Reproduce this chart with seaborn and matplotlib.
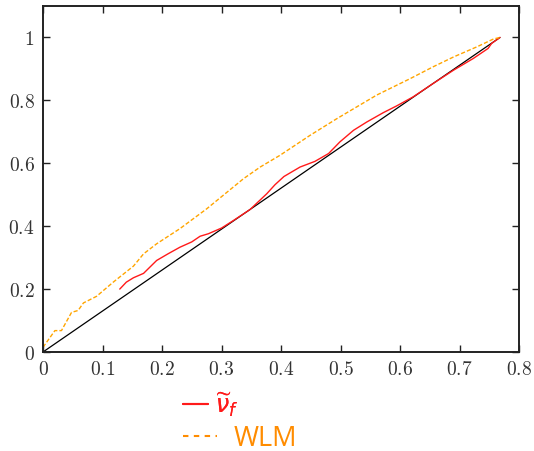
import matplotlib
matplotlib.use("Agg")
import matplotlib.pyplot as plt
from matplotlib.lines import Line2D
import seaborn as sns
import pandas as pd

# Reference diagonal
diag_x = [0.0, 0.768]
diag_y = [0.0, 1.0]

# Transported-frequency curve
nu_x = [0.129, 0.140, 0.152, 0.169, 0.191, 0.210, 0.230, 0.250, 0.264, 0.278, 0.300,
        0.320, 0.348, 0.376, 0.390, 0.405, 0.432, 0.457, 0.480, 0.499, 0.522, 0.544, 0.572,
        0.594, 0.622, 0.656, 0.690, 0.723, 0.748, 0.754, 0.768]
nu_y = [0.200, 0.222, 0.236, 0.250, 0.291, 0.312, 0.333, 0.350, 0.368, 0.376, 0.394,
        0.418, 0.453, 0.503, 0.532, 0.558, 0.588, 0.606, 0.631, 0.668, 0.705, 0.731, 0.761,
        0.782, 0.811, 0.854, 0.896, 0.933, 0.965, 0.981, 1.000]

# WLM curve
wlm_x = [0.000, 0.020, 0.031, 0.048, 0.059, 0.068, 0.090, 0.118, 0.152, 0.169, 0.191,
         0.230, 0.275, 0.337, 0.365, 0.398, 0.449, 0.494, 0.561, 0.617, 0.656, 0.690,
         0.729, 0.757, 0.768]
wlm_y = [0.015, 0.068, 0.068, 0.126, 0.132, 0.156, 0.177, 0.222, 0.273, 0.312, 0.344,
         0.392, 0.455, 0.551, 0.588, 0.625, 0.689, 0.742, 0.817, 0.869, 0.907, 0.938,
         0.970, 0.995, 1.000]

x_ticks = [0, 0.1, 0.2, 0.3, 0.4, 0.5, 0.6, 0.7, 0.8]
x_tick_labels = ["0", "0.1", "0.2", "0.3", "0.4", "0.5", "0.6", "0.7", "0.8"]
y_ticks = [0, 0.2, 0.4, 0.6, 0.8, 1.0]
y_tick_labels = ["0", "0.2", "0.4", "0.6", "0.8", "1"]

sns.set_style("ticks")
plt.rcParams["mathtext.fontset"] = "cm"
plt.rcParams["font.family"] = ["Open Sans", "DejaVu Sans"]

W, H = 534, 452
fig = plt.figure(figsize=(W / 100, H / 100), dpi=100)
ax = fig.add_axes([43 / W, 1 - 353 / H, (519 - 43) / W, (353 - 7) / H])

diag = pd.DataFrame({"x": diag_x, "y": diag_y})
nu = pd.DataFrame({"x": nu_x, "y": nu_y})
wlm = pd.DataFrame({"x": wlm_x, "y": wlm_y})

sns.lineplot(data=diag, x="x", y="y", ax=ax, color="black", lw=0.9, sort=False)
sns.lineplot(data=nu, x="x", y="y", ax=ax, color="#ff1a1a", lw=1.0, sort=False)
sns.lineplot(data=wlm, x="x", y="y", ax=ax, color="#ffa500", lw=1.0, sort=False,
             dashes=False, linestyle=(0, (3, 1.5)))

ax.set_xlim(0, 0.8)
ax.set_ylim(0, 1.10)
ax.set_xlabel("")
ax.set_ylabel("")
ax.set_xticks(x_ticks)
ax.set_xticklabels([f"${t}$" for t in x_tick_labels])
ax.set_yticks(y_ticks)
ax.set_yticklabels([f"${t}$" for t in y_tick_labels])
ax.tick_params(direction="in", length=5, width=1.0, top=True, right=True,
               labelsize=14, labelcolor="#333333", color="#222222", pad=6)
for s in ax.spines.values():
    s.set_linewidth(1.4)
    s.set_color("#222222")

# Two separate key entries below the axes
nu_handle = Line2D([], [], color="#ff1a1a", lw=1.5)
leg1 = fig.legend([nu_handle], [r"$\widetilde{\nu}_f$"], loc="center left",
                  bbox_to_anchor=(183 / W, 1 - 405 / H), frameon=False, fontsize=17,
                  handlelength=1.05, handletextpad=0.3, borderpad=0, borderaxespad=0)
t1 = leg1.get_texts()[0]
t1.set_color("#ff1a1a")
t1.set_math_fontfamily("dejavusans")

wlm_handle = Line2D([], [], color="#ff8c00", lw=1.5, linestyle=(0, (2.6, 2.6)))
leg2 = fig.legend([wlm_handle], ["WLM"], loc="center left",
                  bbox_to_anchor=(183 / W, 1 - 439 / H), frameon=False, fontsize=19.5,
                  handlelength=1.27, handletextpad=0.6, borderpad=0, borderaxespad=0)
leg2.get_texts()[0].set_color("#ff8c00")
fig.add_artist(leg1)

fig.savefig("out.png", dpi=100)
